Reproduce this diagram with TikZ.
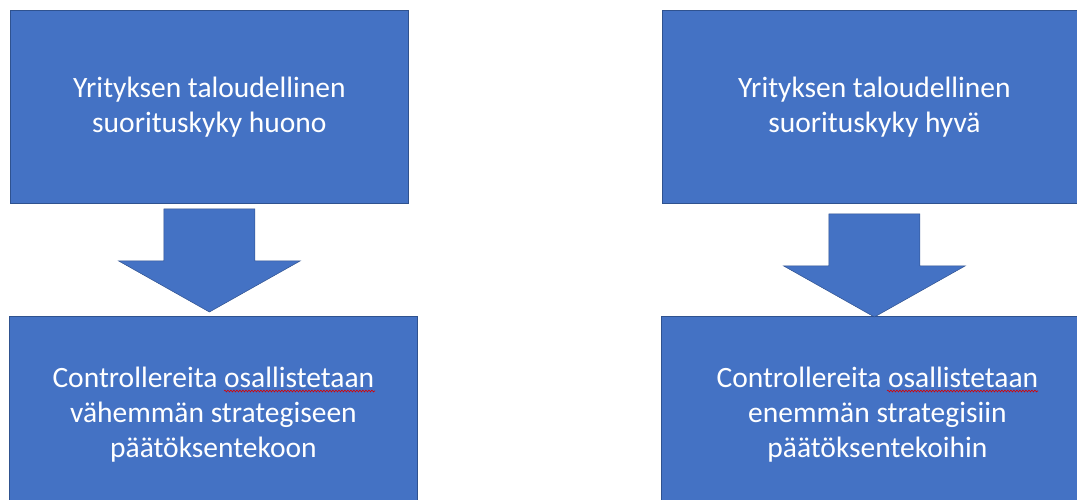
\documentclass[tikz,border=0pt]{standalone}
\usepackage{fontspec}
\setmainfont{Carlito}
\usepackage{tikz}
\usetikzlibrary{calc, decorations.pathmorphing}
\definecolor{boxblue}{HTML}{4472C4}
\definecolor{boxedge}{HTML}{2F528F}
\tikzset{
	box/.style={draw=boxedge, fill=boxblue, line width=0.8pt, text=white,
		align=center, inner sep=0pt, anchor=north west,
		font=\fontsize{29.5}{35}\selectfont},
	blockarrow/.style={draw=boxedge, fill=boxblue, line width=0.5pt},
	spell/.style={red!85!black, line width=0.6pt, decorate,
		decoration={snake, amplitude=0.9pt, segment length=3pt}}
}

\begin{document}
\begin{tikzpicture}[x=1pt, y=-1pt]
		\useasboundingbox (0,0) rectangle (1077,499);
		\clip (0,0) rectangle (1077,499);
		\pgfmathsetmacro{\s}{45.5}	% half width of the shaft
		\pgfmathsetmacro{\h}{91}	% half width of the head

		% the four boxes
		\node[box, minimum width=398, minimum height=193] (tl) at (10,10)
			{Yrityksen taloudellinen\\suorituskyky huono};
		\node[box, minimum width=408, minimum height=197] (bl) at (9,316)
			{Controllereita osallistetaan\\vähemmän strategiseen\\päätöksentekoon};
		\node[box, minimum width=424, minimum height=193] (tr) at (662,10)
			{Yrityksen taloudellinen\\suorituskyky hyvä};
		\node[box, minimum width=432, minimum height=197] (br) at (661,316)
			{Controllereita osallistetaan\\enemmän strategisiin\\päätöksentekoihin};

		% the block arrows
		\coordinate (A) at ($(tl.south)+(0,5)$);
		\coordinate (B) at ($(bl.north -| tl.south)+(0,-4)$);
		\draw[blockarrow] ($(A)+(-\s,0)$) -- ($(A)+(\s,0)$) -- ($(A)+(\s,52)$)
			-- ($(A)+(\h,52)$) -- (B) -- ($(A)+(-\h,52)$) -- ($(A)+(-\s,52)$) -- cycle;

		\coordinate (C) at ($(tr.south)+(0,10)$);
		\coordinate (D) at ($(br.north -| tr.south)+(0,1)$);
		\draw[blockarrow] ($(C)+(-\s,0)$) -- ($(C)+(\s,0)$) -- ($(C)+(\s,52)$)
			-- ($(C)+(\h,52)$) -- (D) -- ($(C)+(-\h,52)$) -- ($(C)+(-\s,52)$) -- cycle;

		% spell check marks
		\draw[spell] (224,391) -- (375,391);
		\draw[spell] (887,391) -- (1038,391);
	\end{tikzpicture}
\end{document}
